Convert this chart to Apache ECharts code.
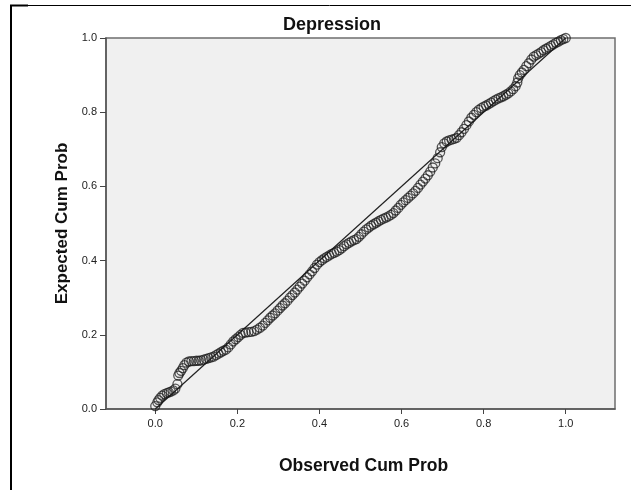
<!DOCTYPE html>
<html>
<head>
<meta charset="utf-8">
<script src="https://cdn.jsdelivr.net/npm/echarts@6/dist/echarts.min.js"></script>
<style>
  html, body { margin: 0; padding: 0; background: #ffffff; }
  #chart { width: 633px; height: 490px; }
</style>
</head>
<body>
<div id="chart"></div>
<script>
// P-P plot: observed vs expected cumulative probability
const observedCumProb = [
  0.000, 0.005, 0.008, 0.012, 0.017, 0.022, 0.028, 0.033, 0.038, 0.044,
  0.049, 0.054, 0.056, 0.059, 0.063, 0.067, 0.071, 0.076, 0.082, 0.088,
  0.094, 0.100, 0.106, 0.112, 0.118, 0.124, 0.130, 0.136, 0.142, 0.148,
  0.154, 0.160, 0.166, 0.172, 0.178, 0.184, 0.190, 0.196, 0.202, 0.208,
  0.214, 0.220, 0.227, 0.234, 0.241, 0.248, 0.255, 0.262, 0.268, 0.274,
  0.280, 0.286, 0.292, 0.298, 0.304, 0.310, 0.316, 0.322, 0.328, 0.334,
  0.340, 0.346, 0.352, 0.358, 0.364, 0.370, 0.376, 0.382, 0.388, 0.394,
  0.400, 0.406, 0.412, 0.418, 0.424, 0.430, 0.436, 0.442, 0.448, 0.454,
  0.460, 0.466, 0.472, 0.478, 0.484, 0.490, 0.496, 0.502, 0.508, 0.514,
  0.520, 0.526, 0.532, 0.538, 0.544, 0.550, 0.556, 0.562, 0.568, 0.574,
  0.580, 0.586, 0.592, 0.598, 0.604, 0.610, 0.616, 0.622, 0.628, 0.634,
  0.640, 0.646, 0.652, 0.658, 0.664, 0.670, 0.676, 0.682, 0.688, 0.694,
  0.698, 0.704, 0.710, 0.716, 0.722, 0.728, 0.734, 0.740, 0.746, 0.752,
  0.758, 0.764, 0.770, 0.776, 0.782, 0.788, 0.794, 0.800, 0.806, 0.812,
  0.818, 0.824, 0.830, 0.836, 0.842, 0.848, 0.854, 0.860, 0.866, 0.872,
  0.878, 0.882, 0.884, 0.888, 0.893, 0.898, 0.904, 0.910, 0.916, 0.922,
  0.928, 0.934, 0.940, 0.946, 0.952, 0.958, 0.964, 0.970, 0.976, 0.982,
  0.988, 0.994, 1.000
];
const expectedCumProb = [
  0.008, 0.018, 0.024, 0.030, 0.036, 0.040, 0.043, 0.045, 0.047, 0.050,
  0.055, 0.067, 0.090, 0.097, 0.103, 0.110, 0.118, 0.125, 0.128, 0.129,
  0.129, 0.130, 0.130, 0.131, 0.133, 0.135, 0.137, 0.139, 0.141, 0.145,
  0.149, 0.153, 0.157, 0.160, 0.166, 0.174, 0.182, 0.188, 0.194, 0.200,
  0.205, 0.206, 0.207, 0.208, 0.210, 0.214, 0.219, 0.225, 0.232, 0.239,
  0.246, 0.252, 0.258, 0.265, 0.272, 0.279, 0.285, 0.292, 0.300, 0.307,
  0.314, 0.322, 0.330, 0.338, 0.346, 0.355, 0.363, 0.371, 0.380, 0.389,
  0.396, 0.401, 0.406, 0.410, 0.414, 0.418, 0.421, 0.424, 0.428, 0.433,
  0.439, 0.444, 0.448, 0.452, 0.455, 0.458, 0.464, 0.471, 0.478, 0.484,
  0.489, 0.494, 0.498, 0.502, 0.506, 0.510, 0.513, 0.516, 0.519, 0.523,
  0.528, 0.535, 0.542, 0.550, 0.557, 0.563, 0.569, 0.575, 0.581, 0.588,
  0.596, 0.605, 0.613, 0.621, 0.630, 0.640, 0.651, 0.662, 0.676, 0.692,
  0.706, 0.716, 0.721, 0.724, 0.726, 0.728, 0.731, 0.738, 0.746, 0.755,
  0.765, 0.775, 0.785, 0.793, 0.800, 0.806, 0.811, 0.815, 0.818, 0.822,
  0.826, 0.830, 0.834, 0.837, 0.840, 0.843, 0.847, 0.851, 0.856, 0.862,
  0.870, 0.880, 0.891, 0.900, 0.907, 0.914, 0.924, 0.932, 0.942, 0.950,
  0.954, 0.958, 0.962, 0.967, 0.971, 0.975, 0.979, 0.983, 0.987, 0.990,
  0.994, 0.997, 1.000
];
const referenceLine = [[0, 0], [1, 1]];
const xTickValues = [0, 0.2, 0.4, 0.6, 0.8, 1.0];
const yTickValues = [0, 0.2, 0.4, 0.6, 0.8, 1.0];
const chartTitle = 'Depression';
const xAxisTitle = 'Observed Cum Prob';
const yAxisTitle = 'Expected Cum Prob';

const points = observedCumProb.map((x, i) => [x, expectedCumProb[i]]);
const FONT = '"Liberation Sans", Arial, sans-serif';

const chart = echarts.init(document.getElementById('chart'), null, { renderer: 'canvas' });
chart.setOption({
  animation: false,
  backgroundColor: '#ffffff',
  textStyle: { fontFamily: FONT },
  grid: {
    left: 106, top: 38, right: 18, bottom: 81,
    show: true,
    backgroundColor: '#f0f0f0',
    borderColor: '#6e6e6e',
    borderWidth: 1.5
  },
  graphic: [
    // outer frame
    { type: 'line', shape: { x1: 11, y1: 5, x2: 11, y2: 490 }, style: { stroke: '#000', lineWidth: 2 } },
    { type: 'line', shape: { x1: 10, y1: 5.5, x2: 28, y2: 5.5 }, style: { stroke: '#000', lineWidth: 2 } },
    { type: 'line', shape: { x1: 28, y1: 5.5, x2: 631, y2: 5.5 }, style: { stroke: '#000', lineWidth: 1 } },
    {
      type: 'text', x: 332, y: 25,
      style: {
        text: chartTitle, font: 'bold 18px ' + FONT, fill: '#111',
        textAlign: 'center', textVerticalAlign: 'middle'
      }
    }
  ],
  xAxis: {
    type: 'value', min: -0.12, max: 1.12,
    name: xAxisTitle, nameLocation: 'middle', nameGap: 48,
    nameTextStyle: {
      fontFamily: FONT, fontWeight: 'bold', fontSize: 17.5, color: '#111',
      padding: [0, 0, 0, 6]
    },
    axisLine: { show: true, onZero: false, lineStyle: { color: '#555', width: 1.5 } },
    axisTick: { show: true, customValues: xTickValues, length: 5, lineStyle: { color: '#444' } },
    axisLabel: {
      customValues: xTickValues, margin: 9, fontSize: 11, color: '#222', fontFamily: FONT,
      formatter: v => v.toFixed(1)
    },
    splitLine: { show: false }
  },
  yAxis: {
    type: 'value', min: 0, max: 1, interval: 0.2,
    name: yAxisTitle, nameLocation: 'middle', nameGap: 35,
    nameTextStyle: { fontFamily: FONT, fontWeight: 'bold', fontSize: 17, color: '#111' },
    axisLine: { show: true, onZero: false, lineStyle: { color: '#555', width: 1.5 } },
    axisTick: { show: true, customValues: yTickValues, length: 6, lineStyle: { color: '#444' } },
    axisLabel: {
      customValues: yTickValues, margin: 9, fontSize: 11, color: '#222', fontFamily: FONT,
      formatter: v => v.toFixed(1)
    },
    splitLine: { show: false }
  },
  series: [
    {
      type: 'line', data: referenceLine, symbol: 'none', z: 1,
      lineStyle: { color: '#222', width: 1.2 }
    },
    {
      type: 'scatter', data: points, symbol: 'circle', symbolSize: 9, z: 2,
      itemStyle: { color: 'rgba(0,0,0,0)', borderColor: 'rgba(25,25,25,0.9)', borderWidth: 1.3 }
    }
  ]
});
</script>
</body>
</html>
